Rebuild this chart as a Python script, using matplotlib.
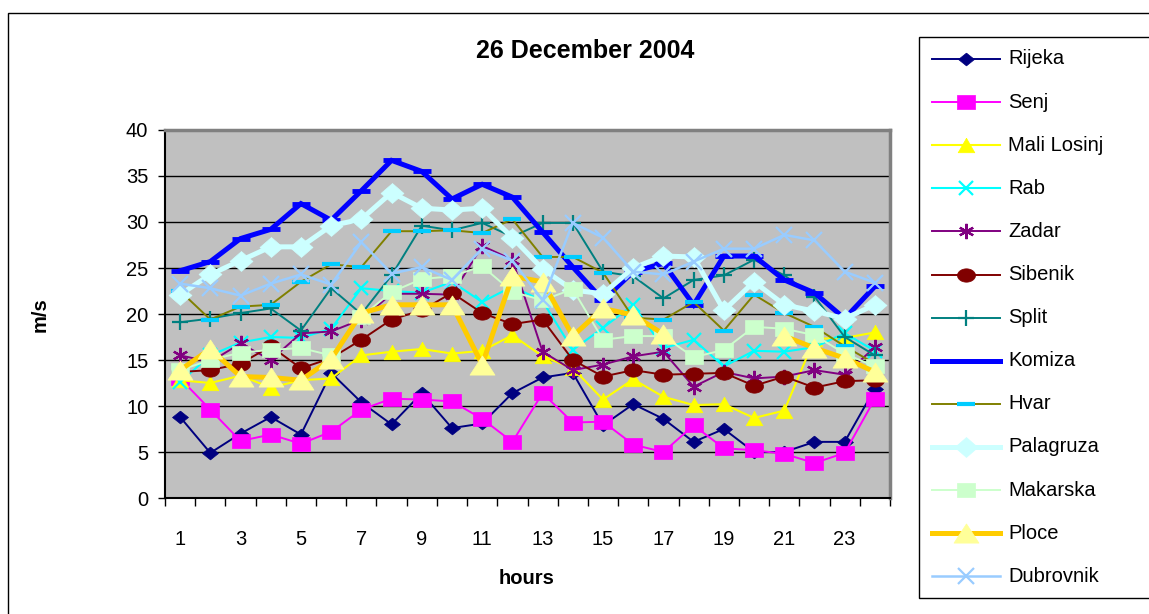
import numpy as np
import matplotlib
matplotlib.use('Agg')
import matplotlib.pyplot as plt
from matplotlib.lines import Line2D
from matplotlib.patches import Rectangle

plt.rcParams['font.family'] = ['Liberation Sans', 'DejaVu Sans']

hours = list(range(1, 25))
x_tick_labels = [str(h) for h in range(1, 24, 2)]
y_ticks = [0, 5, 10, 15, 20, 25, 30, 35, 40]

names = ["Rijeka", "Senj", "Mali Losinj", "Rab", "Zadar", "Sibenik", "Split",
         "Komiza", "Hvar", "Palagruza", "Makarska", "Ploce", "Dubrovnik"]

rijeka = [8.8, 4.9, 7.0, 8.8, 6.9, 13.6, 10.4, 8.0, 11.4, 7.6, 8.1, 11.4,
          13.1, 13.6, 7.9, 10.2, 8.6, 6.1, 7.5, 5.0, 5.0, 6.1, 6.1, 11.9]
senj = [13.0, 9.6, 6.2, 6.9, 5.9, 7.2, 9.6, 10.8, 10.7, 10.5, 8.6, 6.1,
        11.4, 8.2, 8.3, 5.8, 5.0, 7.9, 5.4, 5.2, 4.8, 3.8, 4.9, 10.8]
mali_losinj = [12.8, 12.5, 13.3, 12.0, 12.8, 13.0, 15.5, 15.9, 16.2, 15.7, 16.0, 17.7,
               15.4, 14.1, 10.7, 12.9, 11.0, 10.1, 10.2, 8.7, 9.5, 17.3, 17.4, 18.0]
rab = [12.6, 15.5, 16.9, 17.5, 17.4, 18.4, 22.8, 22.5, 22.3, 23.5, 21.3, 23.0,
       21.4, 16.1, 18.5, 21.0, 16.3, 17.2, 14.3, 16.0, 15.9, 16.4, 17.9, 16.0]
zadar = [15.5, 14.8, 16.8, 15.0, 17.9, 18.1, 19.4, 22.2, 22.2, 22.1, 27.4, 25.9,
         15.9, 13.9, 14.5, 15.4, 15.9, 12.1, 13.7, 13.0, 13.2, 13.9, 13.4, 16.4]
sibenik = [13.7, 13.9, 14.6, 16.5, 14.1, 15.2, 17.2, 19.4, 20.4, 22.3, 20.1, 18.9,
           19.4, 15.0, 13.2, 13.9, 13.4, 13.5, 13.6, 12.2, 13.2, 12.0, 12.7, 12.8]
split = [19.1, 19.5, 20.1, 20.6, 18.2, 22.8, 20.0, 24.2, 29.6, 29.1, 29.9, 28.4,
         29.9, 29.9, 24.6, 24.1, 21.7, 23.7, 24.2, 25.9, 24.2, 21.9, 17.5, 15.5]
komiza = [24.7, 25.7, 28.2, 29.2, 32.0, 30.2, 33.4, 36.7, 35.5, 32.5, 34.1, 32.7,
          28.9, 25.1, 21.5, 24.6, 25.5, 21.0, 26.3, 26.3, 23.7, 22.3, 19.5, 23.0]
hvar = [22.5, 19.4, 20.8, 21.0, 23.5, 25.4, 25.1, 29.0, 29.0, 29.1, 28.8, 30.3,
        26.2, 26.2, 24.5, 19.6, 19.4, 21.3, 18.2, 22.1, 20.1, 18.6, 16.5, 14.6]
palagruza = [22.1, 24.3, 25.8, 27.3, 27.3, 29.6, 30.3, 33.2, 31.5, 31.3, 31.5, 28.3,
             24.9, 22.6, 22.2, 25.0, 26.3, 26.2, 20.4, 23.5, 21.0, 20.3, 19.5, 21.0]
makarska = [13.9, 15.0, 15.8, 16.1, 16.3, 15.5, 19.7, 22.4, 23.8, 24.1, 25.2, 22.4,
            21.5, 22.7, 17.2, 17.6, 17.6, 15.3, 16.1, 18.6, 18.4, 17.7, 15.7, 14.3]
ploce = [13.9, 16.2, 13.2, 13.1, 12.8, 15.1, 20.1, 21.0, 21.0, 21.0, 14.5, 24.1,
         23.5, 17.6, 20.6, 19.9, 17.8, np.nan, np.nan, np.nan, 17.6, 16.3, 15.2, 13.7]
dubrovnik = [23.3, 22.8, 22.0, 23.3, 24.3, 23.2, 27.8, 24.4, 25.1, 23.7, 27.1, 25.8,
             21.5, 29.9, 28.3, 24.6, 24.3, 25.7, 27.1, 27.1, 28.6, 28.0, 24.6, 23.4]

series = [rijeka, senj, mali_losinj, rab, zadar, sibenik, split,
          komiza, hvar, palagruza, makarska, ploce, dubrovnik]

# marker shapes (Excel markers are slightly wider than tall in the picture)
def wdiamond(r):
    return [(0, 1), (r, 0), (0, -1), (-r, 0), (0, 1)]

def wsquare(r):
    return [(-r, -1), (r, -1), (r, 1), (-r, 1), (-r, -1)]

def wtri(r):
    return [(0, 1), (r, -1), (-r, -1), (0, 1)]

def wellipse(r):
    t = np.linspace(0, 2 * np.pi, 41)
    return list(zip(r * np.cos(t), np.sin(t)))

asterisk = (6, 2, 0)

styles = [
    dict(color='#000080', lw=1.4, marker=wdiamond(1.25), ms=11.5, mfc='#000080', mec='#000080'),
    dict(color='#FF00FF', lw=1.4, marker=wsquare(1.25), ms=12.5, mfc='#FF00FF', mec='#FF00FF'),
    dict(color='#FFFF00', lw=1.5, marker=wtri(1.15), ms=12, mfc='#FFFF00', mec='#FFFF00'),
    dict(color='#00FFFF', lw=1.5, marker='x', ms=10, mfc='#00FFFF', mec='#00FFFF', mew=1.6),
    dict(color='#800080', lw=1.4, marker=asterisk, ms=11, mfc='#800080', mec='#800080', mew=1.6),
    dict(color='#800000', lw=1.4, marker=wellipse(1.35), ms=13, mfc='#800000', mec='#800000'),
    dict(color='#008080', lw=1.4, marker='+', ms=11, mfc='#008080', mec='#008080', mew=1.6),
    dict(color='#0000FF', lw=3.6, marker='_', ms=13, mfc='#0000FF', mec='#0000FF', mew=3.5),
    dict(color='#808000', lw=1.4, marker='_', ms=13, mfc='#00CCFF', mec='#00CCFF', mew=3.0),
    dict(color='#CCFFFF', lw=3.6, marker=wdiamond(1.15), ms=16.5, mfc='#CCFFFF', mec='#CCFFFF'),
    dict(color='#CCFFCC', lw=1.4, marker=wsquare(1.25), ms=13, mfc='#CCFFCC', mec='#CCFFCC'),
    dict(color='#FFCC00', lw=3.6, marker=wtri(1.3), ms=18, mfc='#FFFF99', mec='#FFFF99'),
    dict(color='#99CCFF', lw=1.8, marker='x', ms=11, mfc='#99CCFF', mec='#99CCFF', mew=1.6),
]

W, H = 1149, 614
fig = plt.figure(figsize=(W / 100, H / 100), dpi=100)
fig.patch.set_facecolor('white')

def fx(px):
    return px / W

def fy(py):
    return 1 - py / H

# outer chart border
fig.add_artist(Rectangle((fx(8), fy(630)), fx(1160) - fx(8), fy(13) - fy(630),
                         transform=fig.transFigure, fill=False, edgecolor='black', lw=1.0))

ax = fig.add_axes([fx(165), fy(498), fx(890) - fx(165), fy(130) - fy(498)])
ax.set_facecolor('#C0C0C0')
ax.set_axisbelow(True)
ax.yaxis.grid(True, color='black', lw=1.0)

for name, vals, st in zip(names, series, styles):
    st = dict(st)
    st.setdefault('mew', 0.5)
    ax.plot(hours, vals, label=name, solid_joinstyle='miter', **st)

ax.set_xlim(0.5, 24.5)
ax.set_ylim(0, 40)
ax.set_yticks(y_ticks)
ax.set_yticklabels([str(v) for v in y_ticks], fontsize=14.5)
ax.set_xticks(np.arange(0.5, 25, 1.0))
ax.set_xticklabels([])
ax.set_xticks(list(range(1, 24, 2)), minor=True)
ax.set_xticklabels(x_tick_labels, minor=True, fontsize=14.5)
ax.tick_params(axis='x', which='major', direction='out', length=6, width=1, color='black')
ax.tick_params(axis='x', which='minor', length=0, pad=23)
ax.tick_params(axis='y', direction='out', length=5, width=1, color='black', pad=7)

for s in ['top', 'right']:
    ax.spines[s].set_color('#808080')
    ax.spines[s].set_linewidth(2.5)
for s in ['left', 'bottom']:
    ax.spines[s].set_color('black')
    ax.spines[s].set_linewidth(1.5)

fig.text(fx(585), fy(51), '26 December 2004', ha='center', va='center',
         fontsize=18, fontweight='bold')
fig.text(fx(40), fy(315), 'm/s', ha='center', va='center', rotation=90,
         fontsize=14.5, fontweight='bold')
fig.text(fx(527), fy(578), 'hours', ha='center', va='center',
         fontsize=14.5, fontweight='bold')

# legend box
fig.add_artist(Rectangle((fx(919), fy(598)), fx(1170) - fx(919), fy(37) - fy(598),
                         transform=fig.transFigure, facecolor='white', edgecolor='black', lw=1.0))
for i, (name, st) in enumerate(zip(names, styles)):
    y = 59 + 43.1 * i
    st = dict(st)
    st.setdefault('mew', 0.5)
    ln = Line2D([fx(932), fx(966), fx(1000)], [fy(y)] * 3, transform=fig.transFigure,
                markevery=[1], **st)
    fig.add_artist(ln)
    fig.text(fx(1008), fy(y), name, ha='left', va='center', fontsize=14.5)

fig.savefig('out.png', dpi=100)
